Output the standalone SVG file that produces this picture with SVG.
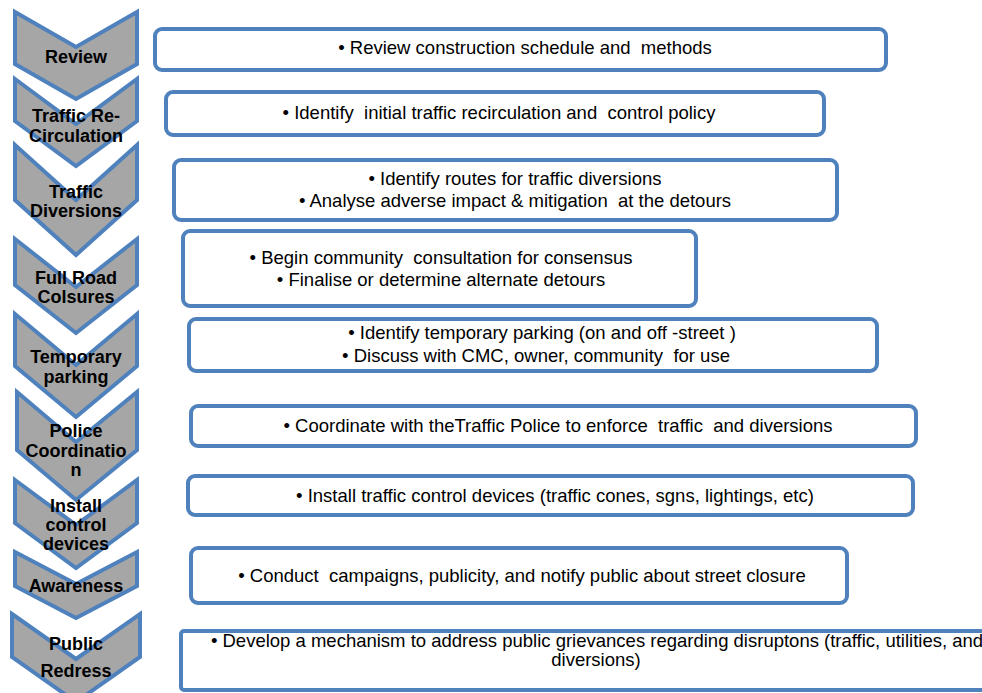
<svg xmlns="http://www.w3.org/2000/svg" width="982" height="693" viewBox="0 0 982 693">
<style>
.chev{fill:#A6A6A6;stroke:#4F81BD;stroke-width:4;stroke-linejoin:miter}
.box{fill:#FFFFFF;stroke:#4F81BD;stroke-width:4}
.ct{font-family:"Liberation Sans",Arial,sans-serif;font-weight:bold;font-size:18px;fill:#000;text-anchor:middle}
.bt{font-family:"Liberation Sans",Arial,sans-serif;font-size:18.5px;fill:#000;text-anchor:middle;white-space:pre}
</style>
<rect width="982" height="693" fill="#FFFFFF"/>
<g id="chevrons">
<g id="c1"><polygon class="chev" points="15,12 76,47 137,12 137,64 76,99 15,64"/><text class="ct" x="76" y="63">Review</text></g>
<g id="c2"><polygon class="chev" points="15,79 76,124 137,79 137,121 76,166 15,121"/><text class="ct" x="76" y="122">Traffic Re-</text><text class="ct" x="76" y="142">Circulation</text></g>
<g id="c3"><polygon class="chev" points="15,145 76,200 137,145 137,200 76,255 15,200"/><text class="ct" x="76" y="198">Traffic</text><text class="ct" x="76" y="217">Diversions</text></g>
<g id="c4"><polygon class="chev" points="15,239 76,287 137,239 137,285 76,333 15,285"/><text class="ct" x="76" y="284">Full Road</text><text class="ct" x="76" y="303">Colsures</text></g>
<g id="c5"><polygon class="chev" points="15,314 76,365 137,314 137,366 76,417 15,366"/><text class="ct" x="76" y="363">Temporary</text><text class="ct" x="76" y="383">parking</text></g>
<g id="c6"><polygon class="chev" points="17,392 76,442 137,392 137,450 76,500 17,450"/><text class="ct" x="76" y="437">Police</text><text class="ct" x="76" y="457">Coordinatio</text><text class="ct" x="76" y="476">n</text></g>
<g id="c7"><polygon class="chev" points="15,480 76,525 137,480 137,523 76,568 15,523"/><text class="ct" x="76" y="512">Install</text><text class="ct" x="76" y="531">control</text><text class="ct" x="76" y="550">devices</text></g>
<g id="c8"><polygon class="chev" points="15,552 76,584 137,552 137,586 76,618 15,586"/><text class="ct" x="76" y="592">Awareness</text></g>
<g id="c9"><polygon class="chev" points="12,614 76,659 140,614 140,657 76,702 12,657"/><text class="ct" x="76" y="650">Public</text><text class="ct" x="76" y="677">Redress</text></g>
</g>
<g id="boxes">
<g id="b1"><rect class="box" x="155" y="29" width="731" height="41" rx="7"/><text class="bt" x="525" y="54">• Review construction schedule and  methods</text></g>
<g id="b2"><rect class="box" x="166" y="92" width="658" height="43" rx="7"/><text class="bt" x="499" y="119">• Identify  initial traffic recirculation and  control policy</text></g>
<g id="b3"><rect class="box" x="174" y="160" width="663" height="60" rx="7"/><text class="bt" x="515" y="185">• Identify routes for traffic diversions</text><text class="bt" x="515" y="207">• Analyse adverse impact &amp; mitigation  at the detours</text></g>
<g id="b4"><rect class="box" x="183" y="231" width="513" height="75" rx="7"/><text class="bt" x="441" y="264">• Begin community  consultation for consensus</text><text class="bt" x="441" y="286">• Finalise or determine alternate detours</text></g>
<g id="b5"><rect class="box" x="189" y="319" width="688" height="52" rx="7"/><text class="bt" x="542" y="339">• Identify temporary parking (on and off -street )</text><text class="bt" x="536" y="362">• Discuss with CMC, owner, community  for use</text></g>
<g id="b6"><rect class="box" x="191" y="406" width="725" height="40" rx="7"/><text class="bt" x="558" y="432">• Coordinate with theTraffic Police to enforce  traffic  and diversions</text></g>
<g id="b7"><rect class="box" x="188" y="476" width="725" height="39" rx="7"/><text class="bt" x="555" y="502">• Install traffic control devices (traffic cones, sgns, lightings, etc)</text></g>
<g id="b8"><rect class="box" x="191" y="548" width="656" height="55" rx="7"/><text class="bt" x="522" y="582">• Conduct  campaigns, publicity, and notify public about street closure</text></g>
<g id="b9"><rect class="box" x="181" y="631" width="830" height="59" rx="3"/><text class="bt" x="597" y="647">• Develop a mechanism to address public grievances regarding disruptons (traffic, utilities, and</text><text class="bt" x="596" y="666">diversions)</text></g>
</g>
</svg>
